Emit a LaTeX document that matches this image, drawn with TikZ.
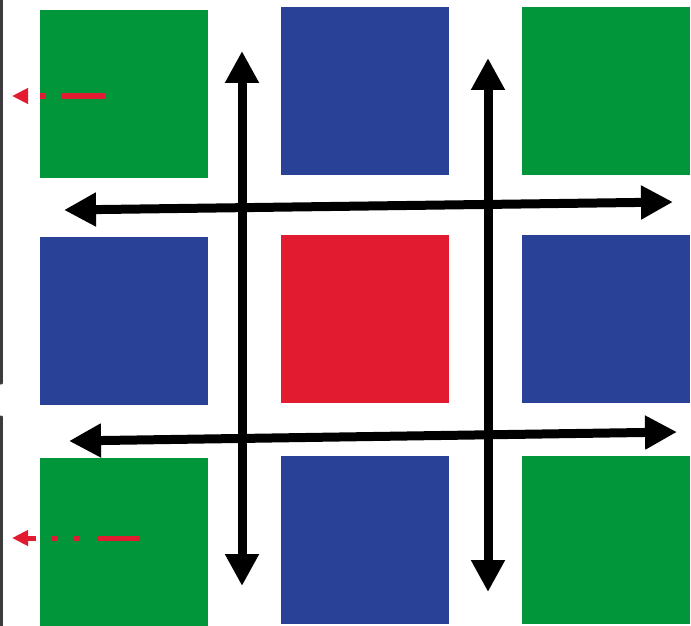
\documentclass[tikz,border=0pt]{standalone}
\usepackage{tikz}
\usetikzlibrary{arrows.meta}
\usepackage{xcolor}
\definecolor{greencustom}{RGB}{0,150,57}
\definecolor{bluecustom}{RGB}{41,65,150}
\definecolor{redcustom}{RGB}{226,27,48}
\definecolor{edgecustom}{RGB}{60,60,60}

\begin{document}
\begin{tikzpicture}[x=1pt, y=-1pt,
    sq/.style={rectangle, inner sep=0pt, minimum width=168pt, minimum height=168pt},
    greensq/.style={sq, fill=greencustom},
    bluesq/.style={sq, fill=bluecustom},
    redsq/.style={sq, fill=redcustom},
    bigarrow/.style={line width=9pt, {Triangle[length=32pt,width=32pt]}-{Triangle[length=32pt,width=32pt]}},
    redarrow/.style={redcustom, line width=5pt, -{Triangle[length=16pt,width=15pt]}}]
    \useasboundingbox[fill=white] (0,0) rectangle (691,626);
    \draw[edgecustom, line width=3pt, line cap=round] (1,0) -- (1,383);
    \draw[edgecustom, line width=3pt, line cap=round] (1,417) -- (1,626);

    \node[greensq] (g11) at (124,94) {};
    \node[bluesq] (b12) at (365,91) {};
    \node[greensq] (g13) at (606,91) {};
    \node[bluesq] (b21) at (124,321) {};
    \node[redsq] (r22) at (365,319) {};
    \node[bluesq] (b23) at (606,319) {};
    \node[greensq] (g31) at (124,542) {};
    \node[bluesq] (b32) at (365,540) {};
    \node[greensq] (g33) at (606,540) {};

    \coordinate (vl-top) at (242,51);
    \coordinate (vl-bot) at (242,586);
    \coordinate (vr-top) at (488,58);
    \coordinate (vr-bot) at (488,592);
    \coordinate (ht-left) at (64,210);
    \coordinate (ht-right) at (673,202);
    \coordinate (hb-left) at (69,441);
    \coordinate (hb-right) at (677,432);
    \draw[bigarrow] (vl-top) -- (vl-bot);
    \draw[bigarrow] (vr-top) -- (vr-bot);
    \draw[bigarrow] (ht-left) -- (ht-right);
    \draw[bigarrow] (hb-left) -- (hb-right);

    \coordinate (rt-start) at (105,96);
    \coordinate (rt-tip) at (12,96);
    \coordinate (rb-start) at (140,538);
    \coordinate (rb-tip) at (12,538);
    \draw[redarrow, dash pattern=on 43pt off 17pt on 5pt off 12pt] (rt-start) -- (rt-tip);
    \draw[redarrow, dash pattern=on 43pt off 17pt on 6pt off 16pt on 6pt off 16pt on 8pt] (rb-start) -- (rb-tip);
\end{tikzpicture}
\end{document}
